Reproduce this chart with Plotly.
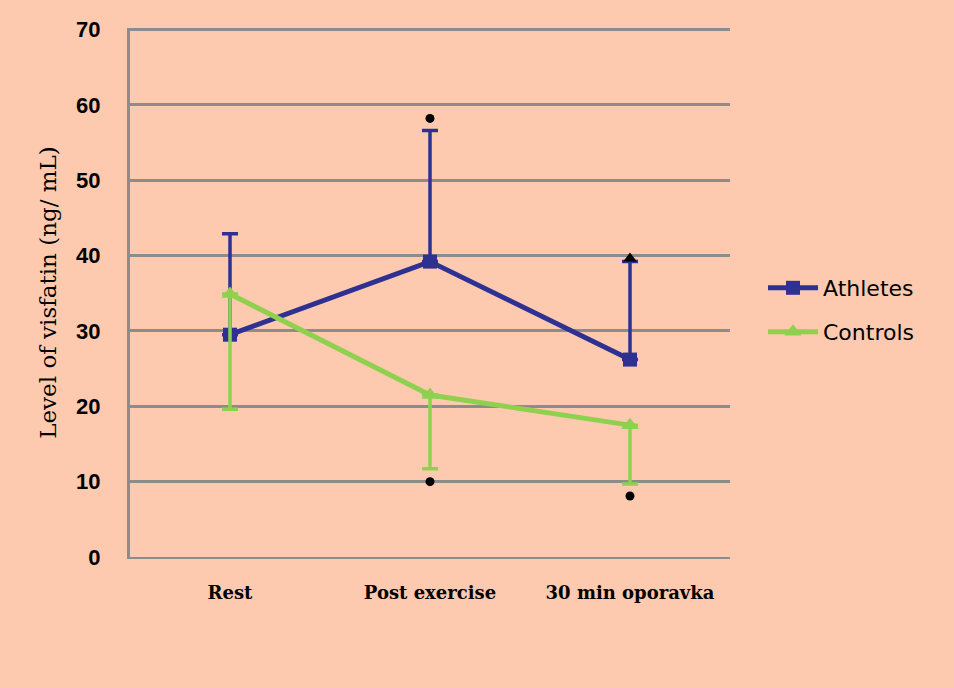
import plotly.graph_objects as go

# Visfatin levels (ng/mL) across the three sampling times
categories = ["Rest", "Post exercise", "30 min oporavka"]
athletes_mean = [29.5, 39.2, 26.2]
athletes_upper = [42.9, 56.6, 39.2]      # top of the one-sided error bars
controls_mean = [34.9, 21.5, 17.5]
controls_lower = [19.6, 11.7, 9.7]       # bottom of the one-sided error bars

# Individual outlying observations
dot_x = ["Post exercise", "Post exercise", "30 min oporavka"]
dot_y = [58.2, 10.0, 8.1]
tri_x = ["30 min oporavka"]
tri_y = [39.6]

BG = "#FDCAB0"
NAVY = "#2E3192"
GREEN = "#8FD14F"
GRID = "#8C8C8C"

fig = go.Figure()

fig.add_trace(go.Scatter(
    x=categories, y=athletes_mean, name="Athletes", mode="lines+markers",
    line=dict(color=NAVY, width=5),
    marker=dict(symbol="square", size=14, color=NAVY),
    error_y=dict(type="data", symmetric=False,
                 array=[u - m for u, m in zip(athletes_upper, athletes_mean)],
                 arrayminus=[0, 0, 0],
                 color=NAVY, thickness=3.5, width=8),
    legend="legend",
))

fig.add_trace(go.Scatter(
    x=categories, y=controls_mean, name="Controls", mode="lines+markers",
    line=dict(color=GREEN, width=5),
    marker=dict(symbol="triangle-up", size=15, color=GREEN),
    error_y=dict(type="data", symmetric=False,
                 array=[0, 0, 0],
                 arrayminus=[m - l for m, l in zip(controls_mean, controls_lower)],
                 color=GREEN, thickness=3.5, width=8),
    legend="legend2",
))

fig.add_trace(go.Scatter(
    x=dot_x, y=dot_y, mode="markers", showlegend=False,
    marker=dict(symbol="circle", size=9, color="black"),
))
fig.add_trace(go.Scatter(
    x=tri_x, y=tri_y, mode="markers", showlegend=False,
    marker=dict(symbol="triangle-up", size=12, color="black"),
))

legend_font = dict(family="DejaVu Sans, sans-serif", size=22, color="black")
fig.update_layout(
    width=954, height=688,
    paper_bgcolor=BG, plot_bgcolor=BG,
    margin=dict(l=130, r=224, t=28, b=131),
    showlegend=True,
    legend=dict(x=1.055, y=(557 - 288) / 529, yanchor="middle", xanchor="left",
                bgcolor="rgba(0,0,0,0)", font=legend_font, itemwidth=50),
    legend2=dict(x=1.055, y=(557 - 332) / 529, yanchor="middle", xanchor="left",
                 bgcolor="rgba(0,0,0,0)", font=legend_font, itemwidth=50),
)

fig.update_xaxes(
    type="category", range=[-0.5, 2.5],
    showgrid=False, showline=True, linecolor=GRID, linewidth=2,
    ticks="", ticklabelstandoff=18,
    tickfont=dict(family="DejaVu Serif, serif", size=18, color="black", weight="bold"),
)

fig.update_yaxes(
    range=[0, 70.2], tickvals=[0, 10, 20, 30, 40, 50, 60, 70],
    showgrid=True, gridcolor=GRID, gridwidth=3,
    zeroline=False, showline=True, linecolor=GRID, linewidth=3,
    ticks="", ticklabelstandoff=22,
    tickfont=dict(family="Liberation Sans, Arial, sans-serif", size=22, color="black",
                  weight="bold"),
    title=dict(text="Level of visfatin (ng/ mL)", standoff=14,
               font=dict(family="DejaVu Serif, serif", size=23, color="black")),
)

fig.write_html("out.html")
